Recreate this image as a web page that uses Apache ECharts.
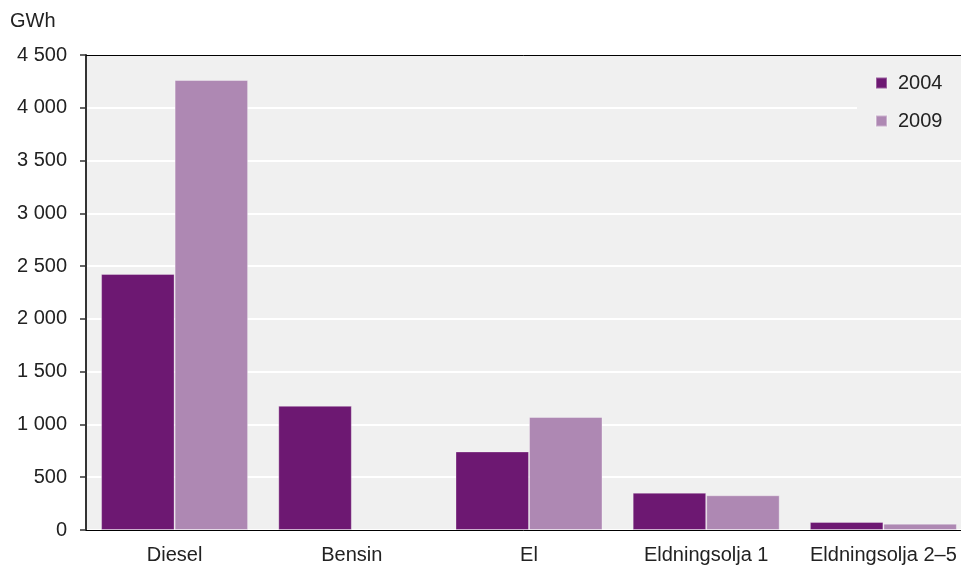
<!DOCTYPE html>
<html>
<head>
<meta charset="utf-8">
<script src="https://cdn.jsdelivr.net/npm/echarts@6/dist/echarts.min.js"></script>
<style>
html,body{margin:0;padding:0;background:#fff;}
#c{width:961px;height:566px;}
</style>
</head>
<body>
<div id="c"></div>
<script>
const categories = ['Diesel', 'Bensin', 'El', 'Eldningsolja 1', 'Eldningsolja 2–5'];
const series2004 = [2425, 1176, 744, 353, 76];
const series2009 = [4263, null, 1071, 329, 60];
const seriesNames = ['2004', '2009'];
const yTicks = [0, 500, 1000, 1500, 2000, 2500, 3000, 3500, 4000, 4500];
const unitLabel = 'GWh';

const FONT = '"Liberation Sans", Arial, sans-serif';
const FS = 20;
const fmt = v => String(v).replace(/\B(?=(\d{3})+(?!\d))/g, ' ');

const chart = echarts.init(document.getElementById('c'), null, {renderer: 'canvas'});
chart.setOption({
  animation: false,
  textStyle: {fontFamily: FONT},
  title: {
    text: unitLabel, left: 10, top: 11, padding: 0,
    textStyle: {fontFamily: FONT, fontSize: FS, fontWeight: 'normal', color: '#222'}
  },
  legend: {
    data: seriesNames,
    orient: 'vertical',
    left: 857, top: 61,
    padding: [12, 20, 12, 18],
    backgroundColor: '#f0f0f0',
    itemWidth: 11, itemHeight: 11, itemGap: 18,
    icon: 'rect',
    textStyle: {fontFamily: FONT, fontSize: FS, color: '#222', padding: [0, 0, 0, 6]}
  },
  grid: {
    left: 86, width: 886, top: 55, bottom: 36,
    outerBoundsMode: 'none', containLabel: false,
    show: true, backgroundColor: '#f0f0f0', borderWidth: 0
  },
  xAxis: [{
    type: 'category',
    data: categories,
    axisLine: {lineStyle: {color: '#000', width: 1}},
    axisTick: {show: false},
    axisLabel: {fontFamily: FONT, fontSize: FS, color: '#222', margin: 15, interval: 0}
  }, {
    type: 'category',
    position: 'top',
    data: categories,
    axisLine: {show: true, lineStyle: {color: '#000', width: 1}},
    axisTick: {show: false},
    axisLabel: {show: false}
  }],
  yAxis: {
    type: 'value',
    min: yTicks[0], max: yTicks[yTicks.length - 1], interval: 500,
    axisLine: {show: true, lineStyle: {color: '#333', width: 2}},
    axisTick: {show: true, length: 6, lineStyle: {color: '#333', width: 1.5}},
    axisLabel: {fontFamily: FONT, fontSize: FS, color: '#222', margin: 19, formatter: fmt},
    splitLine: {show: true, lineStyle: {color: '#ffffff', width: 2}}
  },
  series: [{
    name: seriesNames[0], type: 'bar', data: series2004,
    barWidth: 73.5, barGap: '0%',
    itemStyle: {color: '#6d1872', borderColor: 'rgba(255,255,255,0.3)', borderWidth: 1}
  }, {
    name: seriesNames[1], type: 'bar', data: series2009,
    barWidth: 73.5, barGap: '0%',
    itemStyle: {color: '#ae88b3', borderColor: 'rgba(255,255,255,0.35)', borderWidth: 1}
  }]
});
</script>
</body>
</html>
